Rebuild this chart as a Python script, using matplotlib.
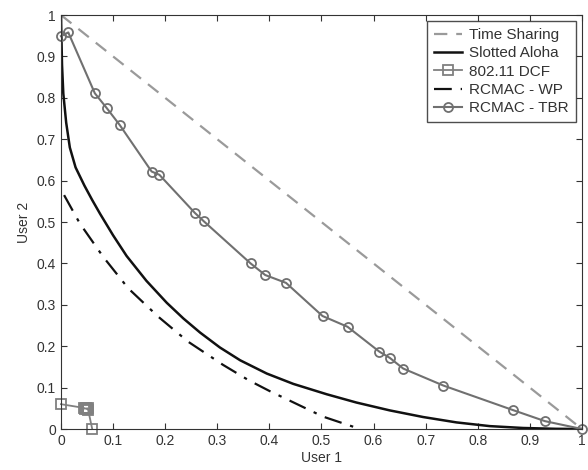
import matplotlib
matplotlib.use('Agg')
import matplotlib.pyplot as plt

plt.rcParams['font.family'] = ['Liberation Sans', 'DejaVu Sans']

# Time Sharing
ts_x = [0, 1]
ts_y = [1, 0]

# Slotted Aloha
sa_x = [0, 0.002, 0.0045, 0.01, 0.017, 0.028, 0.045, 0.06, 0.075, 0.1, 0.126, 0.164,
        0.203, 0.235, 0.267, 0.305, 0.344, 0.395, 0.446, 0.51, 0.567, 0.631, 0.695,
        0.759, 0.823, 0.887, 0.95, 1.0]
sa_y = [1.0, 0.88, 0.81, 0.74, 0.68, 0.632, 0.588, 0.553, 0.52, 0.468, 0.418, 0.358,
        0.305, 0.267, 0.233, 0.197, 0.166, 0.134, 0.109, 0.084, 0.064, 0.045, 0.029,
        0.016, 0.007, 0.0025, 0.0005, 0.0]

# 802.11 DCF
dcf_x = [0.0, 0.044, 0.046, 0.048, 0.05, 0.051, 0.052, 0.06]
dcf_y = [0.06, 0.051, 0.049, 0.05, 0.048, 0.05, 0.047, 0.0]

# RCMAC - WP
wp_x = [0.006, 0.036, 0.081, 0.129, 0.187, 0.244, 0.311, 0.36, 0.40, 0.44, 0.503, 0.574]
wp_y = [0.565, 0.497, 0.416, 0.34, 0.271, 0.211, 0.155, 0.118, 0.092, 0.068, 0.03, 0.0]

# RCMAC - TBR
tbr_x = [0.0, 0.014, 0.065, 0.088, 0.113, 0.174, 0.189, 0.257, 0.274, 0.364, 0.392,
         0.432, 0.502, 0.550, 0.611, 0.631, 0.657, 0.734, 0.867, 0.929, 1.0]
tbr_y = [0.949, 0.958, 0.811, 0.775, 0.734, 0.622, 0.614, 0.522, 0.502, 0.400, 0.372,
         0.353, 0.273, 0.247, 0.187, 0.172, 0.146, 0.105, 0.046, 0.019, 0.0]

fig = plt.figure(figsize=(5.88, 4.7), dpi=100)
ax = fig.add_axes([0.1037, 0.0872, 0.886, 0.8808])

ax.plot(ts_x, ts_y, color='#9a9a9a', linestyle=(0, (6, 4)), linewidth=1.6, label='Time Sharing')
ax.plot(sa_x, sa_y, color='#111111', linewidth=1.8, label='Slotted Aloha')
ax.plot(dcf_x, dcf_y, color='#808080', linewidth=1.3, marker='s', markersize=6.5,
        markerfacecolor='none', markeredgewidth=1.3, label='802.11 DCF', clip_on=False)
ax.plot(wp_x, wp_y, color='#111111', linestyle=(0, (8, 4, 1.5, 4)), linewidth=1.6, label='RCMAC - WP')
ax.plot(tbr_x, tbr_y, color='#707070', linewidth=1.5, marker='o', markersize=6.5,
        markerfacecolor='none', markeredgewidth=1.3, label='RCMAC - TBR', clip_on=False)

ax.set_xlim(0, 1)
ax.set_ylim(0, 1)
ticks = [0, 0.1, 0.2, 0.3, 0.4, 0.5, 0.6, 0.7, 0.8, 0.9, 1]
labels = ['0', '0.1', '0.2', '0.3', '0.4', '0.5', '0.6', '0.7', '0.8', '0.9', '1']
ax.set_xticks(ticks)
ax.set_xticklabels(labels)
ax.set_yticks(ticks)
ax.set_yticklabels(labels)
ax.tick_params(direction='in', top=True, right=True, length=4, labelsize=10,
               colors='#333333', labelcolor='#333333')
for s in ax.spines.values():
    s.set_color('#333333')

ax.set_xlabel('User 1', fontsize=10, color='#333333', labelpad=2)
ax.set_ylabel('User 2', fontsize=10, color='#333333', labelpad=4)

leg = ax.legend(loc='upper right', fontsize=11, handlelength=1.8, handletextpad=0.5,
                frameon=True, fancybox=False, borderaxespad=0.4, labelspacing=0.28,
                borderpad=0.45)
leg.get_frame().set_edgecolor('#222222')
leg.get_frame().set_linewidth(1.0)
for t in leg.get_texts():
    t.set_color('#333333')

fig.savefig('out.png', dpi=100)
